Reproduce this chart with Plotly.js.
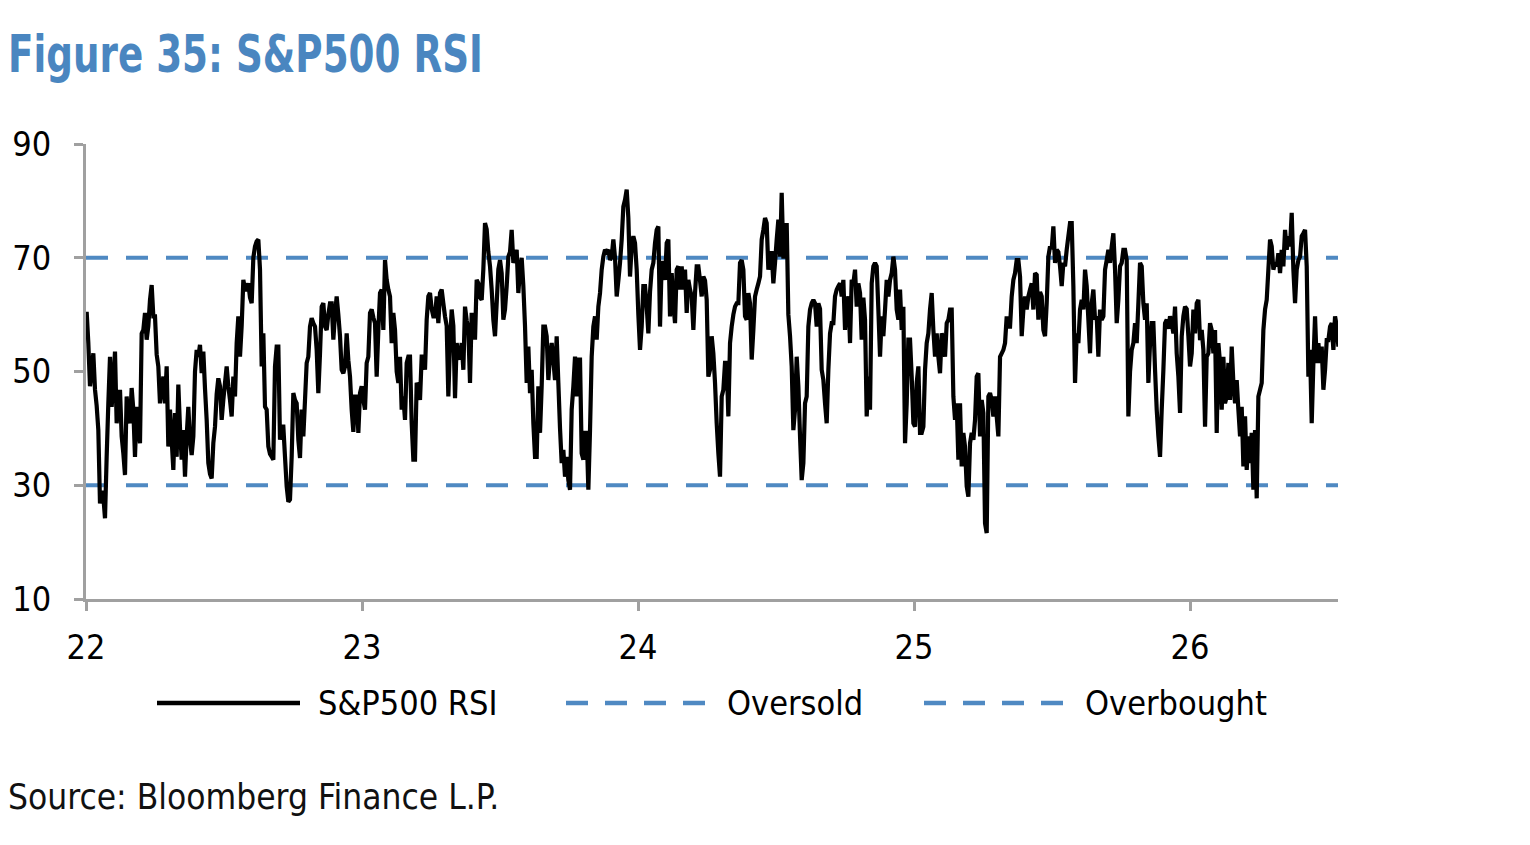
<!DOCTYPE html>
<html>
<head>
<meta charset="utf-8">
<script src="https://cdn.plot.ly/plotly-3.0.1.min.js"></script>
<style>
html,body{margin:0;padding:0;background:#fff;}
#chart{width:1530px;height:845px;}
</style>
</head>
<body>
<div id="chart"></div>
<script>
// Year tick labels (x axis in years, 22 = 2022)
const yearTicks = [22, 23, 24, 25, 26];
const yearLabels = ["22", "23", "24", "25", "26"];
const rsiTicks = [10, 30, 50, 70, 90];

// Sampling: one reading every ~2.2 days starting just after 1 Jan 2022
const firstSample = 22.0024;       // decimal year of first reading
const sampleStepYears = 0.0060386; // ~2.2 days between readings
const xEnd = 26.536;

// S&P500 RSI readings
const rsi = [
 // 2022 H1
 60.5,55,47.4,50,53.2,46.8,44,39.7,26.8,29,28,24.2,35,44.4,52.6,43.8,48,53.5,40.9,44,
 46.8,38.6,35.6,31.8,45.6,42,40.9,47.1,43.3,35,43.8,40,37.4,56.7,57.3,60.3,55.6,58,62.6,65.2,
 59.7,59.7,53,50.9,44.4,47,49.1,44.4,50.9,36.8,43.3,38,32.7,42.7,35,47.7,40,34.5,39.7,31.5,
 38.6,43.8,38,35.3,38.6,50,53.8,52.6,54.7,49.7,53.5,47,41.5,33.9,32,31.2,37.4,40.3,46,48.8,
 47.4,41.5,45,48,50.9,47.4,45,42.1,49.1,45.6,55,59.7,
 // 2022 H2
 52.6,58,66.1,64.4,64.4,65.5,63,62,70,72,72.9,73.2,67.9,50.9,56.7,43.8,43.3,36.8,35.5,35,
 34.5,50.9,54.4,54.4,38,40.3,40.3,35,29.8,27.1,27.5,35,46.2,45,44.4,38,34.8,43.3,38.6,45,
 51.5,52.6,57.9,59.4,58.5,57.9,53.8,46.2,53.2,61.4,62,57.9,57.3,60,62,62,55.6,60,63.2,60,
 56.2,50.3,49.7,50.9,56.7,52,49.1,43.3,39.4,45.6,45.6,39.2,46.2,47.4,45,43.3,51.5,52.6,60.3,60.9,
 59.5,58.5,49.1,57.3,63.8,64.4,57.3,69.6,66.1,64.4,63.2,55,60.3,57.3,50,48,
 // 2023
 52.6,43.3,45.6,41.5,51.5,52.6,52.6,40.9,34.5,34.5,48,47.4,45,52.6,52.6,50.3,59.1,63.2,63.8,61,
 59.7,59.7,63.2,58.5,63.8,64.4,62,59.7,58,45.6,55,60.9,58,45.3,55,53,52.1,55,50.3,61.4,
 59,57.3,48,60.3,58.5,55.6,66.1,65.5,63,62.6,68,76.1,75,71,68.5,64.4,59.1,56.2,62,68,
 69.6,67.3,59.1,60.9,65,70.2,71,74.9,69.1,70.2,71.4,63.8,68,70,65,58,48,54.4,46.2,50.3,
 40.9,35,35,47.4,39.2,47.4,57.9,57.9,56.2,48.5,52.6,55,52,48.5,56.2,48,
 // 2023 Q4 - 2024 H1
 40,33.9,36.2,31.5,35,30.9,29.2,43.3,47.4,52.6,45.6,52.1,52.1,35.6,34.5,39.2,39.2,29.2,39.7,52.6,
 57.9,59.7,55.6,61.4,63.8,67.9,70.2,71.4,71,71.4,69.6,70.2,73.2,70,63.2,66,69.1,73.2,79,80.2,
 82,77,66.7,72,73.8,72.6,67.9,60,53.8,57.9,65,65,61.4,56.7,64,67.9,69.1,72.6,74.9,75.5,
 57.9,69.1,69.1,66.1,72.6,73.2,59.7,67.3,62,58.5,67.9,68.5,64.4,68.5,64.4,67.9,60.3,66.1,64.4,63.2,
 57.3,63.8,68.5,68.5,66,63.2,66.7,66,62.6,49.1,50.3,56.2,53.2,48,40.9,35.6,
 // 2024
 31.5,45.6,46.8,51.5,51.5,42.1,55,57.9,60,61.4,62,62,69.1,69.6,67.9,59.7,59.1,63.8,62,52.1,
 57.3,63.2,64.4,65.5,66.7,73.2,74.9,77,76.1,67.9,70.8,70.8,65.5,69.1,73.2,76.7,70.2,81.4,70.2,70.2,
 76.1,60,56.2,50.9,39.7,43.3,52.6,47.4,38.6,30.9,33.9,44.4,45.6,57.9,60.9,62,62.6,62,57.9,62,
 61,50.3,48.5,44.4,40.9,50.3,56.7,58.5,58.5,63.2,64.4,65,65.5,63.2,66.1,57.3,62,63.2,55,66.1,
 65.5,67.9,61.4,65.5,63.8,55.6,63,59.1,42.1,49.1,43.3,65.5,68.5,69.1,68.5,60.9,
 // 2024 Q4 - 2025
 52.6,59.7,56.2,60.9,66.1,63.2,66.1,67.3,70.2,67.9,60.9,59.1,64.4,57.3,61.4,37.4,44.4,55.6,55.6,49.1,
 40.9,40.3,48,50.9,39.2,39.2,40.3,50.3,55,56.7,60.9,63.8,57.3,52.6,56.7,52.6,49.7,56.7,55.6,52.6,
 58.5,59.1,60.9,60.9,45.6,41.5,44.4,34.5,44.4,33.3,39.2,36.8,29.8,28,37.4,39.2,38,41.5,49.1,49.7,
 38.6,45,42.7,23.3,21.6,45.6,46.2,45,42.1,45.6,42.1,38.6,52.6,53.2,53.8,55,59.7,57.9,57.9,63.2,
 66.1,67.3,69.6,69.6,66.7,56.2,60.9,63.2,60.9,63.2,64.4,65.5,60.9,67.3,67,59.1,
 // 2025 H2
 64,63.2,57.3,56.2,62,70.2,72,71.5,75.5,69.1,71.4,71,68.5,65,69.1,68.5,71.4,73.8,76.1,76.1,
 65,48,56.7,55,60.9,62.6,60.9,67.9,65,59.1,53.2,62,64.4,59.1,59.7,52.6,60.9,59.1,59.7,67.9,
 69.6,71.4,69.1,72,74.3,67.9,58.5,62.6,68.5,69.1,71.4,71.4,69.6,42.1,50,53.8,55,58.5,55,62,
 69.1,68.5,62,59.1,62,48,55,58.5,58.5,50.3,43.3,38.6,35,43.3,50.3,58.5,59.1,57.5,59.7,58.5,
 56.7,61.4,53.2,49.1,42.7,56.2,59.7,61.4,61,56.2,50.9,53.2,60.9,
 // 2025 Q4 - 2026
 56.7,62,62.6,55.5,57.3,53.8,40.3,52.6,53.2,58.5,57.3,53.2,57.3,39.2,55,51.5,43.3,52.6,44.4,45.6,
 51.5,45,54.4,48,44.4,48.5,43.3,38.6,43.8,33.3,42.1,32.7,38.6,33.9,39.2,29.2,39.7,27.7,45.6,46.8,
 48,57.3,60.9,62.6,67.9,73.2,72,67.9,69.1,68.5,70.8,67.3,71.4,68.5,74.9,71.4,73.8,72,77.9,67.9,
 62,67.9,69.6,70.2,73.8,74.3,74.9,68.5,49.1,53.8,40.9,51.5,59.7,51.5,55,51.5,54.4,46.8,50.3,55.5,
 55.5,57.9,58.5,53.8,59.7,58,54.4,58.5
];

// Reference levels
const oversoldLevel = [30, 30];
const overboughtLevel = [70, 70];
const levelX = [22, xEnd];

const dates = rsi.map((_, i) => firstSample + i * sampleStepYears);

const blue = "rgb(79,137,194)";
const gray = "rgb(160,160,160)";
const FONT = "'Liberation Sans Narrow', 'Arial Narrow', 'DejaVu Sans Condensed', sans-serif";

const traces = [
  {x: levelX, y: oversoldLevel, name: "Oversold", mode: "lines",
   line: {color: blue, width: 4, dash: "22px,18px"}, hoverinfo: "skip"},
  {x: levelX, y: overboughtLevel, name: "Overbought", mode: "lines",
   line: {color: blue, width: 4, dash: "22px,18px"}, hoverinfo: "skip"},
  {x: dates, y: rsi, name: "S&P500 RSI", mode: "lines",
   line: {color: "#000", width: 4.2, simplify: false}, hoverinfo: "skip"}
];

// plot-area geometry helpers for the hand-drawn legend (paper coordinates)
const L = 86, R = 1338, T = 144, B = 599;
const px = v => (v - L) / (R - L);
const py = v => (B - v) / (B - T);

const legY = py(703);
const legendItems = [
  {name: "S&P500 RSI", x0: 157, x1: 300, tx: 316, color: "#000", dash: "solid"},
  {name: "Oversold", x0: 566, x1: 706, tx: 725, color: blue, dash: "22px,17px"},
  {name: "Overbought", x0: 924, x1: 1064, tx: 1083, color: blue, dash: "22px,17px"}
];

const shapes = legendItems.map(it => ({
  type: "line", xref: "paper", yref: "paper",
  x0: px(it.x0), x1: px(it.x1), y0: legY, y1: legY,
  line: {color: it.color, width: 4.5, dash: it.dash}
}));

const annotations = legendItems.map(it => ({
  xref: "paper", yref: "paper", x: px(it.tx), y: legY,
  xanchor: "left", yanchor: "middle", showarrow: false,
  text: it.name, font: {family: FONT, size: 34, color: "#000"}
}));
annotations.push({
  xref: "paper", yref: "paper", x: px(6), y: py(797),
  xanchor: "left", yanchor: "middle", showarrow: false,
  text: "Source: Bloomberg Finance L.P.", font: {family: FONT, size: 35, color: "#111"}
});

const layout = {
  width: 1530, height: 845,
  paper_bgcolor: "#fff", plot_bgcolor: "#fff",
  margin: {l: L, r: 1530 - R, t: T, b: 845 - B, pad: 0},
  showlegend: false,
  font: {family: FONT, size: 34, color: "#000"},
  title: {
    text: "<b>Figure 35: S&P500 RSI</b>",
    xref: "container", yref: "container",
    x: 8 / 1530, xanchor: "left",
    y: 1 - 54 / 845, yanchor: "middle",
    font: {family: FONT, size: 51, color: "rgb(74,134,192)"}
  },
  xaxis: {
    range: [22, xEnd], tickmode: "array", tickvals: yearTicks, ticktext: yearLabels,
    showgrid: false, zeroline: false, showline: true, linecolor: gray, linewidth: 3,
    ticks: "outside", ticklen: 9, tickwidth: 3, tickcolor: gray,
    tickfont: {family: FONT, size: 34, color: "#000"}, ticklabelstandoff: 7
  },
  yaxis: {
    range: [10, 90], tickmode: "array", tickvals: rsiTicks,
    showgrid: false, zeroline: false, showline: true, linecolor: gray, linewidth: 3,
    ticks: "outside", ticklen: 9, tickwidth: 3, tickcolor: gray,
    tickfont: {family: FONT, size: 34, color: "#000"}, ticklabelstandoff: 16
  },
  shapes: shapes,
  annotations: annotations
};

Plotly.newPlot("chart", traces, layout, {staticPlot: true, displayModeBar: false}).then(gd => {
  // condense the bold title horizontally to mimic a narrow typeface
  const t = gd.querySelector(".gtitle");
  if (t) {
    const x0 = parseFloat(t.getAttribute("x")) || 8;
    const w = t.getBBox().width;
    const s = 475 / w;
    t.setAttribute("transform", `translate(${x0},0) scale(${s},1) translate(${-x0},0)`);
  }
});
</script>
</body>
</html>
